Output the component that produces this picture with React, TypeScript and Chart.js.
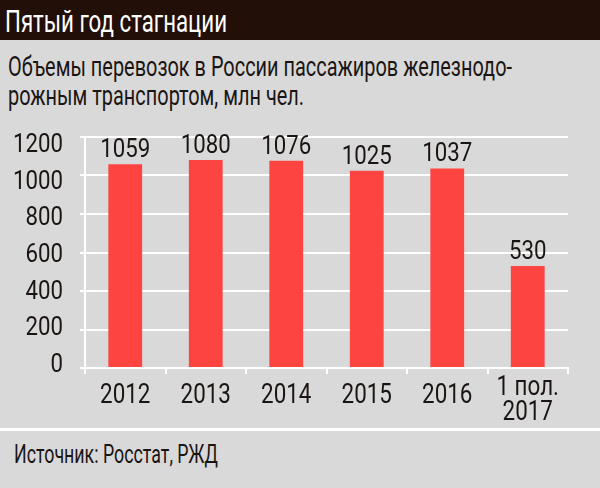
import React, { useEffect, useRef } from "react";
import { Chart, registerables } from "chart.js";

Chart.register(...registerables);

const title = "Пятый год стагнации";
const subtitleLines = ["Объемы перевозок в России пассажиров железнодо-", "рожным транспортом, млн чел."];
const source = "Источник: Росстат, РЖД";
const categories: (string | string[])[] = ["2012", "2013", "2014", "2015", "2016", ["1 пол.", "2017"]];
const values = [1059, 1080, 1076, 1025, 1037, 530];
const yTicks = [0, 200, 400, 600, 800, 1000, 1200];

const FONT = "Roboto, 'DejaVu Sans', sans-serif";
const BG = "#d9d9d9";
const BAR = "#fd4441";
const TEXT = "#1a1512";

function scaleFor(text: string, size: number, target: number): number {
  const c = document.createElement("canvas").getContext("2d")!;
  c.font = `${size}px ${FONT}`;
  const w = c.measureText(text).width;
  return w > 0 ? target / w : 1;
}

function drawCondensed(ctx: CanvasRenderingContext2D, text: string, x: number, y: number, sx: number, align: "left" | "right" | "center") {
  ctx.save();
  ctx.translate(x, y);
  ctx.scale(sx, 1);
  ctx.textAlign = align;
  ctx.textBaseline = "alphabetic";
  ctx.fillText(text, 0, 0);
  ctx.restore();
}

export default function App() {
  const ref = useRef<HTMLCanvasElement>(null);
  useEffect(() => {
    document.body.style.margin = "0";
    const labelPlugin = {
      id: "customLabels",
      afterDatasetsDraw(chart: any) {
        const ctx: CanvasRenderingContext2D = chart.ctx;
        const xs = chart.scales.x;
        const ys = chart.scales.y;
        const zero = ys.getPixelForValue(0);
        const span = zero - ys.getPixelForValue(1200);
        ctx.save();
        ctx.fillStyle = TEXT;
        // value labels
        ctx.font = `26px ${FONT}`;
        const meta = chart.getDatasetMeta(0);
        meta.data.forEach((el: any, i: number) => {
          drawCondensed(ctx, String(values[i]), el.x, el.y - 7, 0.855, "center");
        });
        // y tick labels
        yTicks.forEach((v) => {
          const p = ys.getPixelForValue(v);
          const base = p + 4 + ((zero - p) * 11) / span;
          drawCondensed(ctx, String(v), ys.left + 63, base, 0.855, "right");
        });
        // x tick labels
        ctx.font = `27px ${FONT}`;
        categories.forEach((c, i) => {
          const x = xs.getPixelForValue(i);
          if (Array.isArray(c)) {
            c.forEach((line, j) => {
              drawCondensed(ctx, line, x, zero + 27 + j * 25, 0.83, "center");
            });
          } else {
            drawCondensed(ctx, c, x, zero + 35, 0.83, "center");
          }
        });
        ctx.restore();
      },
    };
    const chart = new Chart(ref.current!, {
      type: "bar",
      data: {
        labels: categories,
        datasets: [
          {
            data: values,
            backgroundColor: BAR,
            borderWidth: 0,
            barPercentage: 0.42,
            categoryPercentage: 1,
          },
        ],
      },
      options: {
        responsive: false,
        animation: false,
        layout: { padding: { top: 17, right: 32, left: 0, bottom: 0 } },
        plugins: { legend: { display: false }, tooltip: { enabled: false } },
        scales: {
          x: {
            offset: true,
            grid: {
              display: true,
              drawOnChartArea: false,
              offset: true,
              color: "#ffffff",
              lineWidth: 2,
              tickLength: 6,
            },
            border: { display: true, color: "#ffffff", width: 2 },
            ticks: { display: false, autoSkip: false },
            afterFit(scale: any) {
              scale.height = 62;
              scale.paddingLeft = 0;
              scale.paddingRight = 0;
            },
          },
          y: {
            min: 0,
            max: 1200,
            afterBuildTicks(scale: any) {
              scale.ticks = yTicks.map((v) => ({ value: v }));
            },
            grid: { color: "#ffffff", lineWidth: 2, tickLength: 5 },
            border: { display: true, color: "#ffffff", width: 2 },
            ticks: { display: false },
            afterFit(scale: any) {
              scale.width = 85;
              scale.paddingTop = 0;
              scale.paddingBottom = 0;
            },
          },
        },
      },
      plugins: [labelPlugin],
    });
    return () => chart.destroy();
  }, []);

  const titleScale = scaleFor(title, 32, 222);
  const subScale = scaleFor(subtitleLines[0], 28, 504);
  const srcScale = scaleFor(source, 25, 204);

  return (
    <div style={{ position: "absolute", left: 0, top: 0, width: 600, height: 488, background: BG, overflow: "hidden", fontFamily: FONT, color: TEXT }}>
      <div style={{ position: "absolute", left: 0, top: 0, width: 600, height: 40, background: "#220f07" }}>
        <div style={{ position: "absolute", left: 5, top: 5, fontSize: 32, lineHeight: "32px", color: "#ffffff", whiteSpace: "nowrap", transform: `scaleX(${titleScale})`, transformOrigin: "left top" }}>{title}</div>
      </div>
      <div style={{ position: "absolute", left: 8, top: 52, fontSize: 28, lineHeight: "29px", whiteSpace: "nowrap", transform: `scaleX(${subScale})`, transformOrigin: "left top" }}>
        {subtitleLines.map((l, i) => (
          <div key={i}>{l}</div>
        ))}
      </div>
      <canvas ref={ref} width={600} height={310} style={{ position: "absolute", left: 0, top: 120, width: 600, height: 310 }} />
      <div style={{ position: "absolute", left: 0, top: 428, width: 600, height: 3, background: "#ffffff" }} />
      <div style={{ position: "absolute", left: 14, top: 440, fontSize: 25, lineHeight: "30px", whiteSpace: "nowrap", transform: `scaleX(${srcScale})`, transformOrigin: "left top" }}>{source}</div>
    </div>
  );
}
